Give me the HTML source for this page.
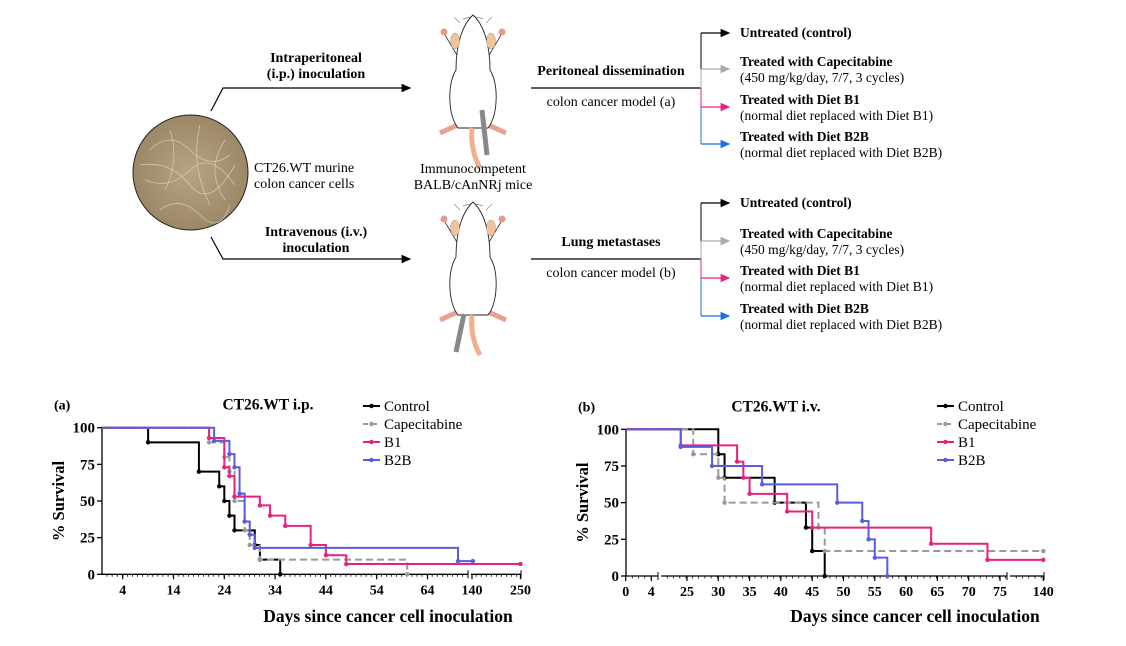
<!DOCTYPE html>
<html><head><meta charset="utf-8"><style>
body{margin:0;background:#fff}
svg{display:block;font-family:"Liberation Serif",serif}
.b{font-weight:bold}
</style></head><body>
<svg id="fig" width="1126" height="646" viewBox="0 0 1126 646" xmlns="http://www.w3.org/2000/svg">
<defs>
<marker id="ak" markerWidth="8" markerHeight="8" refX="7" refY="4" orient="auto"><path d="M0,0.5 L8,4 L0,7.5Z" fill="#000"/></marker>
<marker id="ag" markerWidth="8" markerHeight="8" refX="7" refY="4" orient="auto"><path d="M0,0.5 L8,4 L0,7.5Z" fill="#aaa"/></marker>
<marker id="ap" markerWidth="8" markerHeight="8" refX="7" refY="4" orient="auto"><path d="M0,0.5 L8,4 L0,7.5Z" fill="#e8217f"/></marker>
<marker id="ab" markerWidth="8" markerHeight="8" refX="7" refY="4" orient="auto"><path d="M0,0.5 L8,4 L0,7.5Z" fill="#1a6fe8"/></marker>
<radialGradient id="cg"><stop offset="0" stop-color="#b8a482"/><stop offset="1" stop-color="#9c8766"/></radialGradient>
</defs>
<g>
<circle cx="190.5" cy="172.5" r="57.5" fill="url(#cg)" stroke="#222" stroke-width="1"/>
<g stroke="#e6dcc4" stroke-width="0.8" fill="none" opacity="0.7">
<path d="M150,150 q20,-20 40,0 t40,5"/><path d="M145,180 q25,10 45,-10 t45,15"/><path d="M160,210 q20,-15 40,5 t30,-10"/><path d="M170,130 q10,30 -5,60"/><path d="M200,125 q-10,40 10,80"/><path d="M225,140 q-20,30 0,60"/><path d="M140,165 q30,-5 50,20 t45,-20"/>
</g>
<text x="254" y="172" font-size="14">CT26.WT murine</text>
<text x="254" y="188" font-size="14">colon cancer cells</text>
<path d="M211,111 L223,88 H410" fill="none" stroke="#000" stroke-width="1.2" marker-end="url(#ak)"/>
<path d="M211,237 L223,259 H410" fill="none" stroke="#000" stroke-width="1.2" marker-end="url(#ak)"/>
<text x="316" y="62" font-size="14" text-anchor="middle" class="b">Intraperitoneal</text>
<text x="316" y="78" font-size="14" text-anchor="middle" class="b">(i.p.) inoculation</text>
<text x="316" y="236" font-size="14" text-anchor="middle" class="b">Intravenous (i.v.)</text>
<text x="316" y="252" font-size="14" text-anchor="middle" class="b">inoculation</text>
<g id="mouse1"></g>
<g id="mouse2"></g>
<text x="473" y="173" font-size="14" text-anchor="middle">Immunocompetent</text>
<text x="473" y="189" font-size="14" text-anchor="middle">BALB/cAnNRj mice</text>
<g id="branches"></g>
</g>
<g id="chartA"></g>
<g id="chartB"></g>
</svg>
<script>
const NS="http://www.w3.org/2000/svg";
function el(p,t,a,txt){const e=document.createElementNS(NS,t);for(const k in a)e.setAttribute(k,a[k]);if(txt!==undefined)e.textContent=txt;p.appendChild(e);return e;}

function mouse(g,oy,syringeLow){
 el(g,'path',{d:`M463,${oy+4} q10,-4 20,0 M460,${oy+8} l-6,-6 M486,${oy+8} l6,-6`,stroke:'#888',fill:'none','stroke-width':0.7});
 el(g,'path',{d:`M445,${oy+20} L458,${oy+42} M501,${oy+20} L488,${oy+42}`,stroke:'#333','stroke-width':0.8});
 el(g,'circle',{cx:444,cy:oy+17,r:3.5,fill:'#e89a8a'});el(g,'circle',{cx:502,cy:oy+17,r:3.5,fill:'#e89a8a'});
 el(g,'path',{d:`M440,${oy+118} L462,${oy+108} M506,${oy+118} L484,${oy+108}`,stroke:'#e8a090','stroke-width':5});
 el(g,'path',{d:`M473,${oy} C462,${oy+10} 456,${oy+30} 456,${oy+55} C447,${oy+70} 448,${oy+100} 458,${oy+113} L488,${oy+113} C498,${oy+100} 499,${oy+70} 490,${oy+55} C490,${oy+30} 484,${oy+10} 473,${oy} Z`,fill:'#fff',stroke:'#222','stroke-width':0.9});
 el(g,'ellipse',{cx:455,cy:oy+26,rx:4.5,ry:8,fill:'#f0c49a',stroke:'#999','stroke-width':0.5});
 el(g,'ellipse',{cx:491,cy:oy+26,rx:4.5,ry:8,fill:'#f0c49a',stroke:'#999','stroke-width':0.5});
 el(g,'path',{d:`M472,${oy+113} q-2,22 8,40`,stroke:'#f0b090','stroke-width':5,fill:'none'});
 if(!syringeLow) el(g,'path',{d:`M482,${oy+95} L487,${oy+140}`,stroke:'#888','stroke-width':5});
 else el(g,'path',{d:`M464,${oy+112} L456,${oy+150}`,stroke:'#888','stroke-width':5});
}
mouse(document.getElementById('mouse1'),15,false);
mouse(document.getElementById('mouse2'),202,true);

const br=document.getElementById('branches');
function branch(y0,label,sub,ys){
 el(br,'line',{x1:531,y1:y0,x2:701,y2:y0,stroke:'#000','stroke-width':1.2});
 el(br,'text',{x:611,y:y0-13,'font-size':14,'text-anchor':'middle',class:'b'},label);
 el(br,'text',{x:611,y:y0+18,'font-size':14,'text-anchor':'middle'},sub);
 const cols=[['#000','ak'],['#aaa','ag'],['#e8217f','ap'],['#1a6fe8','ab']];
 el(br,'line',{x1:701,y1:ys[0],x2:701,y2:ys[1],stroke:'#000','stroke-width':1});
 el(br,'line',{x1:701,y1:ys[1],x2:701,y2:y0,stroke:'#aaa','stroke-width':1});
 el(br,'line',{x1:701,y1:y0,x2:701,y2:ys[2],stroke:'#e8217f','stroke-width':1});
 el(br,'line',{x1:701,y1:ys[2],x2:701,y2:ys[3],stroke:'#1a6fe8','stroke-width':1});
 ys.forEach((y,i)=>el(br,'line',{x1:701,y1:y,x2:729,y2:y,stroke:cols[i][0],'stroke-width':1.2,'marker-end':`url(#${cols[i][1]})`}));
 const tx=[['Untreated (control)',null],['Treated with Capecitabine','(450 mg/kg/day, 7/7, 3 cycles)'],['Treated with Diet B1','(normal diet replaced with Diet B1)'],['Treated with Diet B2B','(normal diet replaced with Diet B2B)']];
 tx.forEach((t,i)=>{const by=i==0?ys[0]+4:ys[i]-3;el(br,'text',{x:740,y:by,'font-size':13.5,class:'b'},t[0]);if(t[1])el(br,'text',{x:740,y:by+16,'font-size':13.5},t[1]);});
}
branch(88,'Peritoneal dissemination','colon cancer model (a)',[33,69,107,144]);
branch(259,'Lung metastases','colon cancer model (b)',[203,241,278,316]);

// ===== Chart A data =====
const seriesNames=['Control','Capecitabine','B1','B2B'];
const aCtrlDays=[9,19,23,24,25,26,30,31,35];
const aCtrlVals=[90,70,60,50,40,30,20,10,0];
const aCapDays=[21,24,25,26,28,29,31,60];
const aCapVals=[90,80,70,50,30,20,10,0];
const aB1Days=[21,24,25,26,31,33,36,41,44,48];
const aB1Vals=[93,73,67,53,47,40,33,20,13,7];
const aB2BDays=[22,25,26,27,28,29,30,70];
const aB2BVals=[91,82,73,55,36,27,18,9];
const aEnds=[35,60,250,142];
const aXTicks=[4,14,24,34,44,54,64,140,250];
const yTicks=[0,25,50,75,100];
// ===== Chart B data =====
const bCtrlDays=[30,31,39,44,45,47];
const bCtrlVals=[83,67,50,33,17,0];
const bCapDays=[26,30,31,46,47];
const bCapVals=[83,67,50,33,17];
const bB1Days=[24,33,34,35,41,45,64,73];
const bB1Vals=[89,78,67,56,44,33,22,11];
const bB2BDays=[24,29,37,49,53,54,55,57];
const bB2BVals=[88,75,62.5,50,37.5,25,12.5,0];
const bEnds=[47,140,140,57];
const bXTicks=[0,4,25,30,35,40,45,50,55,60,65,70,75,140];

const colors=['#000','#999','#e8217f','#5b5be0'];

function xA(d){return d<=72?102.4+5.08*d:472+(d-140)*(48.5/110);}
function yA(v){return 574.3-1.466*v;}
function xB(d){if(d<=5)return 625.7+6.4*d;if(d<=76)return 718.3+6.26*(d-30);return 1008+(d-76)*(35.3/64);}
function yB(v){return 576-1.467*v;}

function drawChart(g,X,Y,series,ends,xt,opt){
 el(g,'line',{x1:opt.x0,y1:Y(100),x2:opt.x0,y2:Y(0)+0.5,stroke:'#000','stroke-width':1.3});
 yTicks.forEach(t=>{el(g,'line',{x1:opt.x0-5,y1:Y(t),x2:opt.x0,y2:Y(t),stroke:'#000','stroke-width':1.3});
  const tl=el(g,'text',{x:opt.x0-7,y:Y(t)+5,'font-size':15,'text-anchor':'end',class:'b'},t);
  });
 opt.segs.forEach(s=>{el(g,'line',{x1:s[0],y1:Y(0),x2:s[1],y2:Y(0),stroke:'#000','stroke-width':1.3});
  el(g,'line',{x1:s[1],y1:Y(0)-4,x2:s[1],y2:Y(0)+4,stroke:'#000','stroke-width':1});
  for(let x=s[0]+opt.minor;x<s[1]-1;x+=opt.minor)el(g,'line',{x1:x,y1:Y(0),x2:x,y2:Y(0)+2.5,stroke:'#000','stroke-width':0.8});});
 xt.forEach(t=>{const x=X(t);el(g,'line',{x1:x,y1:Y(0),x2:x,y2:Y(0)+5,stroke:'#000','stroke-width':1.2});
  const tl=el(g,'text',{x:x,y:Y(0)+20,'font-size':14,'text-anchor':'middle',class:'b'},t);
  });
 series.forEach((s,i)=>{
  let d=`M${opt.x0},${Y(100)}`;
  s[0].forEach((day,j)=>{d+=` H${X(day)} V${Y(s[1][j])}`;});
  d+=` H${X(ends[i])}`;
  const p=el(g,'path',{d:d,fill:'none',stroke:colors[i],'stroke-width':2,'stroke-dasharray':i==1?'7,4':'none'});
  
  
  s[0].forEach((day,j)=>{const c=el(g,'circle',{cx:X(day),cy:Y(s[1][j]),r:2.2,fill:colors[i]});
   });
  const last=s[1][s[1].length-1];
  el(g,'circle',{cx:X(ends[i]),cy:Y(last),r:2.2,fill:colors[i]});
 });
 el(g,'text',{x:opt.x0-48,y:Y(100)-18,'font-size':14,class:'b'},opt.tag);
 const tt=el(g,'text',{x:opt.tx,y:Y(100)-18,'font-size':15.5,'text-anchor':'middle',class:'b'},opt.title);
 
 const yt=el(g,'text',{x:0,y:0,'font-size':16.5,'text-anchor':'middle',class:'b',transform:`translate(${opt.x0-38},${(Y(100)+Y(0))/2}) rotate(-90)`},'% Survival');
 
 const xtt=el(g,'text',{x:opt.xtx,y:622,'font-size':17.5,'text-anchor':'middle',class:'b'},'Days since cancer cell inoculation');
 
 seriesNames.forEach((n,i)=>{const y=opt.ly+18*i;
  el(g,'line',{x1:opt.lx,y1:y,x2:opt.lx+17,y2:y,stroke:colors[i],'stroke-width':2,'stroke-dasharray':i==1?'5,4':'none'});
  el(g,'circle',{cx:opt.lx+8.5,cy:y,r:2.2,fill:colors[i]});
  const lt=el(g,'text',{x:opt.lx+21,y:y+5,'font-size':15},n);
  });
}
drawChart(document.getElementById('chartA'),xA,yA,
 [[aCtrlDays,aCtrlVals],[aCapDays,aCapVals],[aB1Days,aB1Vals],[aB2BDays,aB2BVals]],aEnds,aXTicks,
 {x0:102,segs:[[102,468],[471,521]],minor:5.08,tag:'(a)',title:'CT26.WT i.p.',tx:268,xtx:388,lx:363,ly:406});
drawChart(document.getElementById('chartB'),xB,yB,
 [[bCtrlDays,bCtrlVals],[bCapDays,bCapVals],[bB1Days,bB1Vals],[bB2BDays,bB2BVals]],bEnds,bXTicks,
 {x0:626,segs:[[626,658],[661,1007],[1010,1044]],minor:6.26,tag:'(b)',title:'CT26.WT i.v.',tx:776,xtx:915,lx:937,ly:406});
</script>
</body></html>
